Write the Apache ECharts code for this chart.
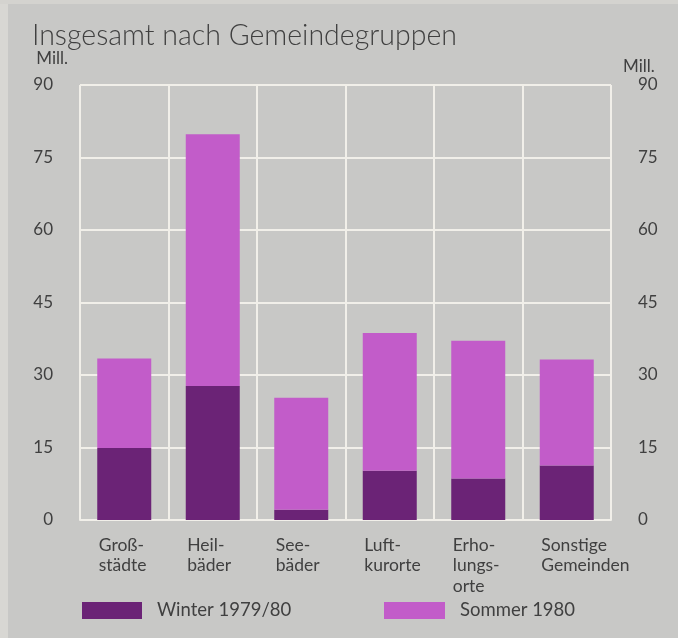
<!DOCTYPE html>
<html><head><meta charset="utf-8">
<script src="https://cdn.jsdelivr.net/npm/echarts@6/dist/echarts.min.js"></script>
<style>html,body{margin:0;padding:0;background:#c8c8c6}#c{width:678px;height:638px}</style>
</head><body><div id="c"></div>
<script>
var categories = ['Groß-\nstädte', 'Heil-\nbäder', 'See-\nbäder', 'Luft-\nkurorte', 'Erho-\nlungs-\norte', 'Sonstige\nGemeinden'];
var winter = [14.9, 27.7, 2.1, 10.2, 8.6, 11.3];
var sommer = [18.5, 52.1, 23.2, 28.5, 28.5, 21.9];
var yTicks = { min: 0, max: 90, interval: 15 };
var seriesNames = ['Winter 1979/80', 'Sommer 1980'];
var titleText = 'Insgesamt nach Gemeindegruppen';
var unitText = 'Mill.';

var FONT = 'Lato';
var TXT = '#404040';
var chart = echarts.init(document.getElementById('c'), null, { renderer: 'canvas' });
var gridLine = { show: true, lineStyle: { color: '#f1efe9', width: 2 } };
chart.setOption({
  backgroundColor: '#c8c8c6',
  animation: false,
  graphic: [
    { type: 'rect', left: 0, top: 0, shape: { width: 8, height: 638 }, style: { fill: '#d8d7d3' }, silent: true },
    { type: 'rect', left: 0, top: 0, shape: { width: 678, height: 4 }, style: { fill: '#d4d3cf' }, silent: true }
  ],
  title: { text: titleText, left: 27, top: 16,
    textStyle: { fontFamily: FONT, fontWeight: 300, fontSize: 28.5, color: TXT } },
  legend: [
    { data: [seriesNames[0]], left: 77, top: 596, itemWidth: 60, itemHeight: 17, icon: 'rect',
      textStyle: { fontFamily: FONT, fontSize: 18.5, color: TXT, padding: [5, 0, 0, 10] } },
    { data: [seriesNames[1]], left: 379, top: 596, itemWidth: 61, itemHeight: 17, icon: 'rect',
      textStyle: { fontFamily: FONT, fontSize: 18.5, color: TXT, padding: [5, 0, 0, 10] } }
  ],
  grid: { left: 80, right: 67, top: 85, bottom: 118 },
  xAxis: {
    type: 'category', data: categories, boundaryGap: true,
    axisLine: { show: true, lineStyle: { color: '#f1efe9', width: 2 } },
    axisTick: { show: false },
    splitLine: gridLine,
    axisLabel: {
      interval: 0, margin: 15, color: TXT, fontFamily: FONT, fontSize: 17.5, lineHeight: 20.5,
      formatter: function (v) { return v.split('\n').map(function (l) { return '{a|' + l + '}'; }).join('\n'); },
      rich: { a: { width: 51, align: 'left', fontFamily: FONT, fontSize: 17.5, lineHeight: 20.5, color: TXT } }
    }
  },
  yAxis: [
    { type: 'value', min: yTicks.min, max: yTicks.max, interval: yTicks.interval, position: 'left',
      name: unitText, nameLocation: 'end', nameGap: 18,
      nameTextStyle: { fontFamily: FONT, fontSize: 17, color: TXT, align: 'right', padding: [0, 12, 0, 0] },
      axisLine: { show: false }, axisTick: { show: false }, splitLine: gridLine,
      axisLabel: { margin: 27, color: TXT, fontFamily: FONT, fontSize: 17 } },
    { type: 'value', min: yTicks.min, max: yTicks.max, interval: yTicks.interval, position: 'right',
      name: unitText, nameLocation: 'end', nameGap: 10,
      nameTextStyle: { fontFamily: FONT, fontSize: 17, color: TXT, align: 'left', padding: [0, 0, 0, 12] },
      axisLine: { show: false }, axisTick: { show: false }, splitLine: { show: false },
      axisLabel: { margin: 27, color: TXT, fontFamily: FONT, fontSize: 17, padding: [6, 0, 0, 0] } }
  ],
  series: [
    { name: seriesNames[0], type: 'bar', stack: 't', data: winter, barWidth: 54,
      itemStyle: { color: '#6b2376' } },
    { name: seriesNames[1], type: 'bar', stack: 't', data: sommer, barWidth: 54,
      itemStyle: { color: '#c25cc9' } }
  ]
});
</script></body></html>
